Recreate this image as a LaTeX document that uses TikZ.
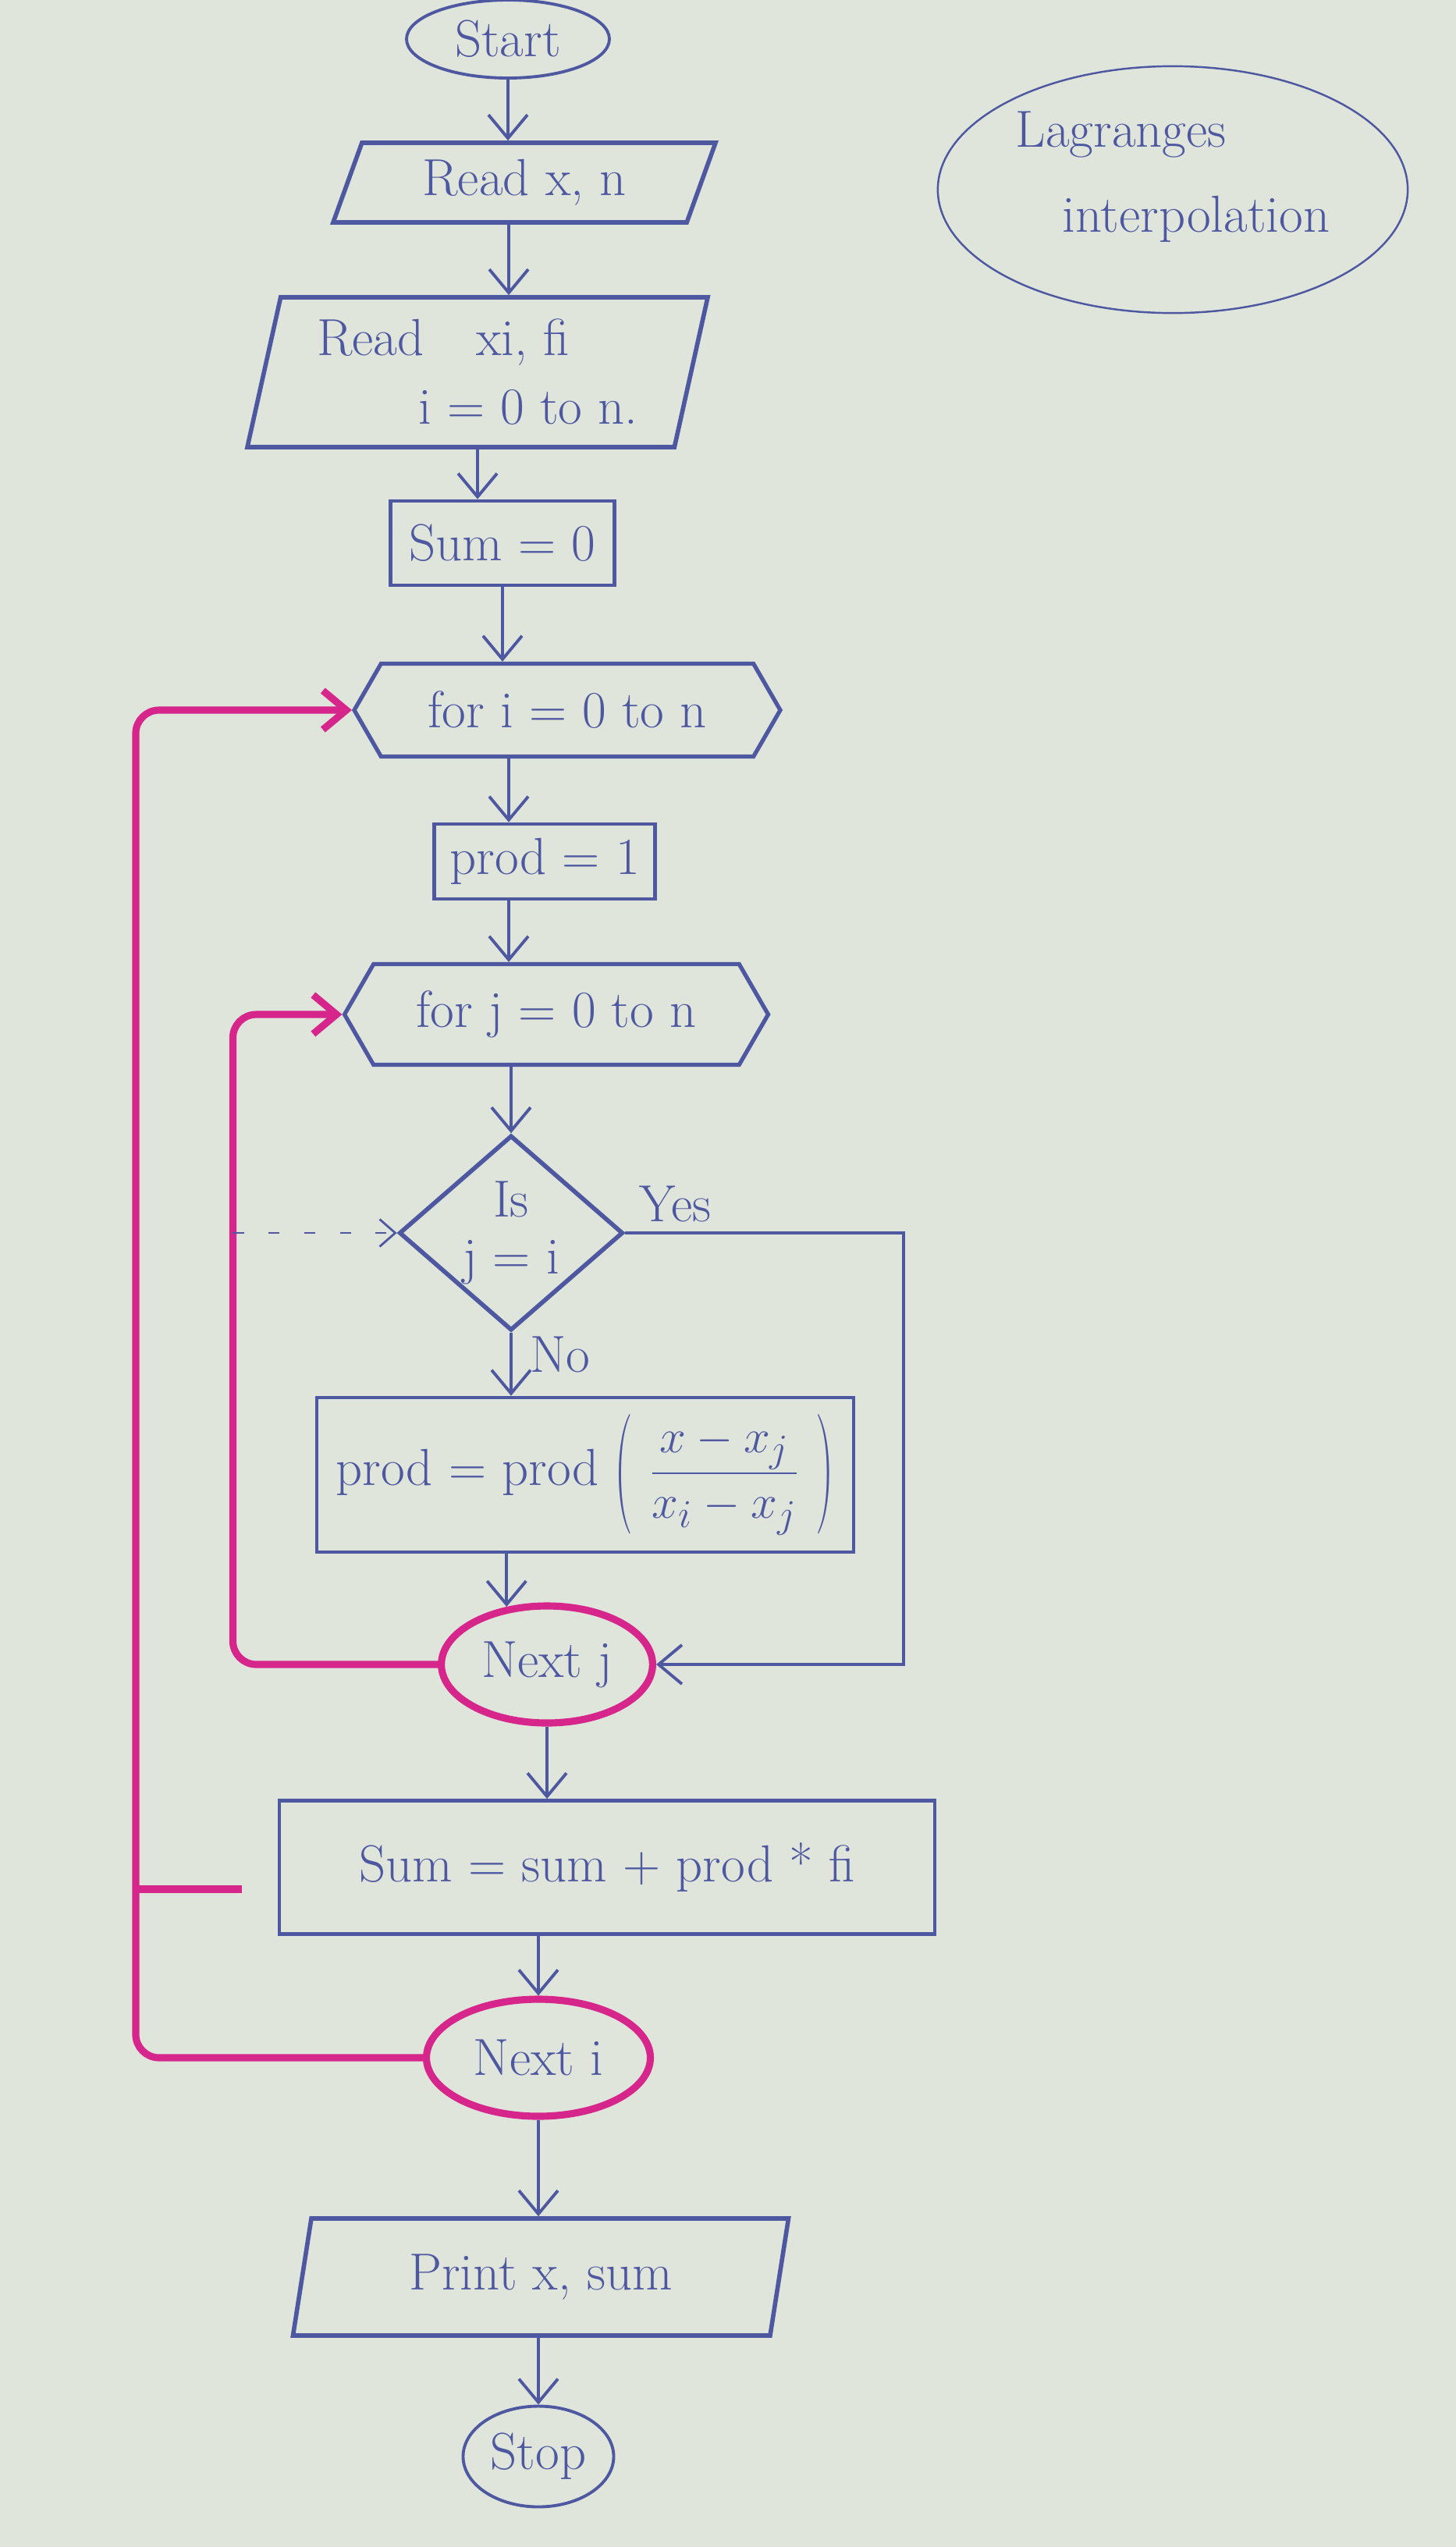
\documentclass[tikz,border=0pt]{standalone}
\usetikzlibrary{shapes.geometric, shapes.symbols, arrows.meta}

\definecolor{ink}{RGB}{78,88,160}
\definecolor{marker}{RGB}{214,38,140}
\definecolor{paper}{RGB}{224,229,219}

\newcommand{\tallparen}[1]{\raisebox{-7pt}{\scalebox{1}[2.3]{#1}}}

\begin{document}
\begin{tikzpicture}[
    every node/.style={text=ink, font=\fontsize{19}{21}\selectfont},
    terminal/.style={ellipse, draw=ink, line width=1.1pt, inner sep=1pt},
    io/.style={trapezium, trapezium left angle=66, trapezium right angle=114, trapezium stretches body=true, draw=ink, line width=1.6pt},
    process/.style={rectangle, draw=ink, line width=1.3pt},
    loopstart/.style={signal, signal to=east and west, signal pointer angle=120, draw=ink, line width=1.5pt},
    decision/.style={diamond, draw=ink, line width=1.6pt, inner sep=-4pt, align=center},
    loopend/.style={ellipse, draw=marker, line width=2.6pt},
    flow/.style={draw=ink, line width=1.1pt, -{Straight Barb[length=3mm, width=5mm]}},
    pinkflow/.style={draw=marker, line width=2.6pt, rounded corners=3mm, -{Straight Barb[length=3mm, width=5mm]}},
    pinkline/.style={draw=marker, line width=2.6pt},
    dashedflow/.style={draw=ink, line width=0.8pt, dash pattern=on 4pt off 9pt, -{Straight Barb[length=2mm, width=3.5mm]}}
]
    \path[use as bounding box, fill=paper] (0,0) rectangle (18.66,-32.64);

    % Title
    \node[ellipse, draw=ink, line width=0.7pt, minimum width=5.98cm, minimum height=2.98cm, align=left] (title) at (15.03, -2.43) {Lagranges\\[10pt]\hspace{0.6cm}interpolation\\[-8pt]\mbox{}};

    % Input
    \node[terminal, minimum width=2.6cm, minimum height=1cm] (start) at (6.51, -0.5) {Start};
    \node[io, minimum width=4.9cm, minimum height=1.02cm] (readxn) at (6.72, -2.34) {Read x, n};
    \node[io, minimum width=5.9cm, minimum height=1.92cm, trapezium left angle=75, trapezium right angle=105, align=left] (readxf) at (6.12, -4.77) {Read\quad xi,\ fi\hspace{1.2cm}\\[4pt]\hspace{1.3cm}i = 0 to n.};
    \node[process, minimum width=2.87cm, minimum height=1.08cm] (sum0) at (6.44, -6.96) {Sum = 0};

    % Outer loop over i
    \node[loopstart, minimum width=5.46cm, minimum height=1.19cm] (fori) at (7.27, -9.1) {for i = 0 to n};
    \node[process, minimum width=2.83cm, minimum height=0.96cm] (prod1) at (6.98, -11.04) {prod = 1};

    % Inner loop over j
    \node[loopstart, minimum width=5.43cm, minimum height=1.29cm] (forj) at (7.13, -13.0) {for j = 0 to n};
    \node[decision, minimum width=2.87cm, minimum height=2.5cm] (isj) at (6.55, -15.8) {Is\\j = i};
    \node[process, minimum width=6.88cm, minimum height=1.98cm] (prodbox) at (7.5, -18.9) {prod = prod \tallparen{(}\ $\displaystyle\frac{x-x_j}{x_i-x_j}$\ \tallparen{)}};
    \node[loopend, minimum width=2.64cm, minimum height=1.5cm] (nextj) at (7.01, -21.33) {Next j};

    % After inner loop
    \node[process, minimum width=8.4cm, minimum height=1.71cm] (sumbox) at (7.78, -23.93) {Sum = sum + prod * fi};
    \node[loopend, minimum width=2.87cm, minimum height=1.5cm] (nexti) at (6.9, -26.37) {Next i};

    % Output
    \node[io, minimum width=6.35cm, minimum height=1.5cm, trapezium left angle=74, trapezium right angle=106] (print) at (6.93, -29.18) {Print x, sum};
    \node[terminal, minimum width=1.93cm, minimum height=1.29cm] (stop) at (6.9, -31.48) {Stop};

    % Loop return points
    \coordinate (iloop) at ([xshift=-2.77cm]fori.west);
    \coordinate (jloop) at ([xshift=-1.4cm]forj.west);
    \coordinate (stubend) at ([xshift=-4.6mm, yshift=-2.8mm]sumbox.west);

    % Main flow
    \draw[flow] (start) -- (start |- readxn.north);
    \draw[flow] ([xshift=-2mm]readxn.south) -- ([xshift=-2mm]readxn.south |- readxf.north);
    \draw[flow] (readxf.south) -- (readxf.south |- sum0.north);
    \draw[flow] (sum0) -- (sum0 |- fori.north);
    \draw[flow] ([xshift=-7.5mm]fori.south) -- ([xshift=-7.5mm]fori.south |- prod1.north);
    \draw[flow] ([xshift=-4.6mm]prod1.south) -- ([xshift=-4.6mm]prod1.south |- forj.north);
    \draw[flow] (isj |- forj.south) -- (isj);
    \draw[flow] (isj) -- (isj |- prodbox.north) node[pos=0.35, right=3pt] {No};
    \draw[flow] (prodbox.south -| nextj.125) -- (nextj.125);
    \draw[flow] (isj.east) -| ([xshift=3.17cm]nextj.east) node[pos=0.09, above] {Yes} -- (nextj.east);
    \draw[flow] (nextj) -- (nextj |- sumbox.north);
    \draw[flow] (nexti |- sumbox.south) -- (nexti);
    \draw[flow] (nexti) -- (nexti |- print.north);
    \draw[flow] (stop |- print.south) -- (stop);

    % Loops
    \draw[pinkflow] (nextj.west) -| (jloop) -- (forj.west);
    \draw[pinkflow] (nexti.west) -| (iloop) -- (fori.west);
    \draw[pinkline] (iloop |- stubend) -- (stubend);
    \draw[dashedflow] (jloop |- isj.west) -- (isj.west);

\end{tikzpicture}
\end{document}
